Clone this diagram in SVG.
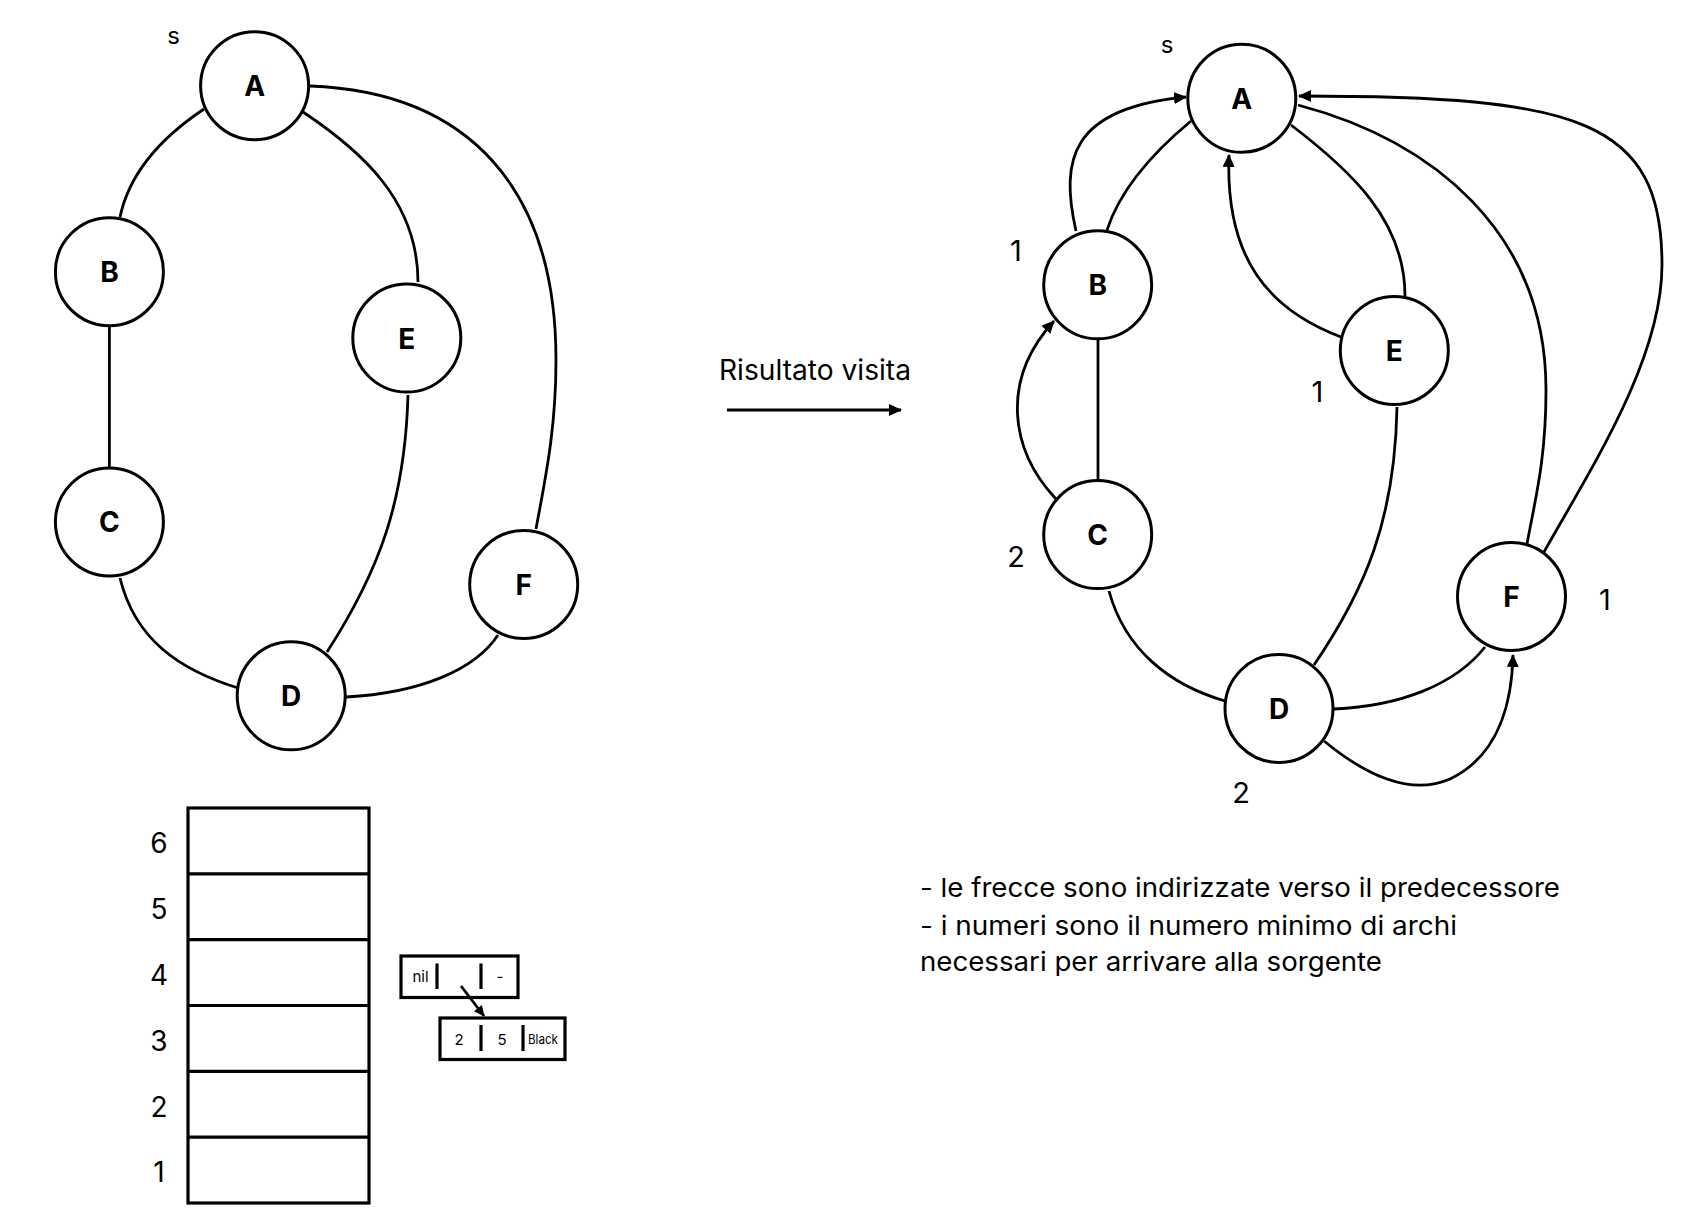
<svg xmlns="http://www.w3.org/2000/svg" width="1690" height="1228" viewBox="0 0 1690 1228">
<style>
.n{fill:#fff;stroke:#000;stroke-width:3}
.lb{font-family:Inter,"Liberation Sans",sans-serif;font-weight:bold;font-size:28px;text-anchor:middle;fill:#000}
.t{font-family:Inter,"Liberation Sans",sans-serif;fill:#000}
.e{fill:none;stroke:#000;stroke-width:2.8}
.a{fill:none;stroke:#000;stroke-width:2.8;marker-end:url(#ah)}
.r{fill:none;stroke:#000;stroke-width:3.2}
</style>
<defs>
<marker id="ah" markerUnits="userSpaceOnUse" markerWidth="14" markerHeight="12" refX="12" refY="6" orient="auto">
<path d="M0,0 L13,6 L0,12 Z" fill="#000"/>
</marker>
<marker id="ahs" markerUnits="userSpaceOnUse" markerWidth="12" markerHeight="10" refX="10" refY="5" orient="auto">
<path d="M0,0 L11,5 L0,10 Z" fill="#000"/>
</marker>
</defs>
<rect width="1690" height="1228" fill="#fff"/>

<g id="connectors">
<!-- left graph -->
<path class="e" d="M204,109 C165,135 130,170 120,217"/>
<path class="e" d="M109.4,326 L109.4,467"/>
<path class="e" d="M303,112 C360,150 418,200 418,282"/>
<path class="e" d="M310,86 C470,92 556,190 556,360 C556,430 545,480 536,529"/>
<path class="e" d="M408,395 C405,500 380,570 327,652"/>
<path class="e" d="M120,578 C135,640 180,670 238,688"/>
<path class="e" d="M346,697 C420,693 475,670 498,635"/>
<!-- result arrow -->
<path class="a" d="M727,410 L901,410"/>
<!-- right graph -->
<path class="e" d="M1191,121 C1150,155 1120,190 1107,230"/>
<path class="a" d="M1076,231 C1060,160 1070,108 1186,97"/>
<path class="e" d="M1098,339 L1098,481"/>
<path class="a" d="M1056,499 C1010,450 1000,380 1054,321"/>
<path class="e" d="M1291,125 C1350,170 1405,220 1405,296"/>
<path class="a" d="M1341,337 C1270,310 1225,260 1229,155"/>
<path class="e" d="M1298,105 C1430,140 1546,230 1546,390 C1546,460 1535,500 1527,544"/>
<path class="a" d="M1544,552 C1590,470 1662,360 1662,265 C1662,120 1580,96 1299,96"/>
<path class="e" d="M1397,407 C1395,520 1365,590 1314,665"/>
<path class="e" d="M1109,591 C1125,650 1170,685 1225,701"/>
<path class="e" d="M1334,709 C1400,706 1455,685 1485,647"/>
<path class="a" d="M1324,741 C1380,787 1420,792 1450,779 C1500,755 1512,700 1513,655"/>
</g>

<!-- left graph nodes -->
<text class="t" x="173.5" y="44" font-size="24" text-anchor="middle">s</text>
<g id="L_A"><circle class="n" cx="254.6" cy="85.7" r="54"/><text class="lb" x="254.6" y="96">A</text></g>
<g id="L_B"><circle class="n" cx="109.4" cy="271.7" r="54"/><text class="lb" x="109.4" y="282">B</text></g>
<g id="L_E"><circle class="n" cx="406.8" cy="338.1" r="54"/><text class="lb" x="406.8" y="348.5">E</text></g>
<g id="L_C"><circle class="n" cx="109.4" cy="521.9" r="54"/><text class="lb" x="109.4" y="532">C</text></g>
<g id="L_F"><circle class="n" cx="523.7" cy="584.5" r="54"/><text class="lb" x="523.7" y="595">F</text></g>
<g id="L_D"><circle class="n" cx="291.2" cy="695.8" r="54"/><text class="lb" x="291.2" y="706">D</text></g>

<text class="t" x="719" y="380" font-size="28" textLength="192" lengthAdjust="spacingAndGlyphs">Risultato visita</text>

<!-- right graph nodes -->
<text class="t" x="1167" y="53" font-size="24" text-anchor="middle">s</text>
<g id="R_A"><circle class="n" cx="1241.8" cy="98.3" r="54"/><text class="lb" x="1241.8" y="108.5">A</text></g>
<g id="R_B"><circle class="n" cx="1097.7" cy="284.8" r="54"/><text class="lb" x="1097.7" y="295">B</text></g>
<g id="R_E"><circle class="n" cx="1394.3" cy="350.4" r="54"/><text class="lb" x="1394.3" y="360.5">E</text></g>
<g id="R_C"><circle class="n" cx="1097.7" cy="534.6" r="54"/><text class="lb" x="1097.7" y="545">C</text></g>
<g id="R_F"><circle class="n" cx="1511.5" cy="596.5" r="54"/><text class="lb" x="1511.5" y="607">F</text></g>
<g id="R_D"><circle class="n" cx="1279" cy="708.4" r="54"/><text class="lb" x="1279" y="718.5">D</text></g>

<g class="t" font-size="29" text-anchor="middle">
<text x="1016" y="261">1</text>
<text x="1317.5" y="402">1</text>
<text x="1016" y="566.5">2</text>
<text x="1605" y="609.5">1</text>
<text x="1241" y="802.5">2</text>
</g>

<!-- table -->
<g id="table">
<rect class="r" x="188" y="808" width="181" height="395"/>
<line class="r" x1="188" y1="873.8" x2="369" y2="873.8"/>
<line class="r" x1="188" y1="939.7" x2="369" y2="939.7"/>
<line class="r" x1="188" y1="1005.5" x2="369" y2="1005.5"/>
<line class="r" x1="188" y1="1071.3" x2="369" y2="1071.3"/>
<line class="r" x1="188" y1="1137.2" x2="369" y2="1137.2"/>
<g class="t" font-size="28" text-anchor="middle">
<text x="159" y="853">6</text>
<text x="159" y="919">5</text>
<text x="159" y="985">4</text>
<text x="159" y="1051">3</text>
<text x="159" y="1117">2</text>
<text x="159" y="1182">1</text>
</g>
</g>

<g id="box1">
<rect class="r" x="401" y="956" width="117" height="41.5"/>
<line class="r" x1="437" y1="963.5" x2="437" y2="989"/>
<line class="r" x1="481" y1="963.5" x2="481" y2="989"/>
<text class="t" x="420.5" y="982" font-size="15" text-anchor="middle">nil</text>
<text class="t" x="500" y="982" font-size="15" text-anchor="middle">-</text>
</g>
<g id="box2">
<rect class="r" x="440" y="1018" width="125" height="41.5"/>
<line class="r" x1="481" y1="1025" x2="481" y2="1051"/>
<line class="r" x1="523" y1="1025" x2="523" y2="1051"/>
<text class="t" x="459" y="1044.5" font-size="15" text-anchor="middle">2</text>
<text class="t" x="502" y="1044.5" font-size="15" text-anchor="middle">5</text>
<text class="t" x="528" y="1044" font-size="13" textLength="30" lengthAdjust="spacingAndGlyphs">Black</text>
</g>
<path class="e" d="M461,986 L484,1016" stroke-width="3" marker-end="url(#ahs)"/>

<g class="t" font-size="26">
<text x="920" y="897" textLength="640" lengthAdjust="spacingAndGlyphs">- le frecce sono indirizzate verso il predecessore</text>
<text x="920" y="935" textLength="537" lengthAdjust="spacingAndGlyphs">- i numeri sono il numero minimo di archi</text>
<text x="920" y="971" textLength="462" lengthAdjust="spacingAndGlyphs">necessari per arrivare alla sorgente</text>
</g>
</svg>
